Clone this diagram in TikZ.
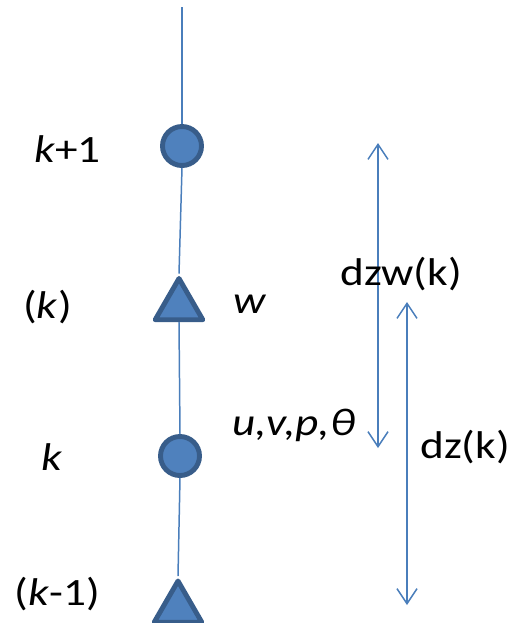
\documentclass[tikz,border=0pt]{standalone}
\usepackage{fontspec}
\setmainfont{Carlito}[FakeStretch=1.17]
\usetikzlibrary{positioning,arrows.meta,shapes.geometric}
\definecolor{lvlfill}{HTML}{4F81BD}
\definecolor{lvledge}{HTML}{385D8A}
\definecolor{lvlline}{HTML}{4A7EBB}
\tikzset{
  lvl/.style  = {draw=lvledge, fill=lvlfill, line width=2.8pt, inner sep=0pt},
  full/.style = {lvl, circle, minimum size=0.78cm},
  half/.style = {lvl, regular polygon, regular polygon sides=3,
                 minimum size=1.1cm, line join=round},
  stem/.style = {draw=lvlline, line width=0.85pt},
  dim/.style  = {{Straight Barb[length=3mm,width=4mm]}-{Straight Barb[length=3mm,width=4mm]},
                 draw=lvlline, line width=0.85pt},
  lbl/.style  = {font=\fontsize{22}{26}\selectfont, inner sep=0pt},
}
\begin{document}
\begin{tikzpicture}
  \useasboundingbox (0,0) rectangle (10.4,-12.46);

  % --- vertical grid column ---
  \coordinate (top) at (3.64,-0.14);
  \node[full] (kp1)  at (3.64,-2.92) {};
  \node[half] (hk)   at (3.58,-6.12) {};
  \node[full] (k)    at (3.60,-9.12) {};
  \node[half] (hkm1) at (3.56,-12.17) {};
  \draw[stem] (top) -- (kp1.north);
  \draw[stem] (kp1.south) -- (hk.north);
  \draw[stem] (hk.south) -- (k.north);
  \draw[stem] (k.south) -- (hkm1.north);

  % --- level labels ---
  \node[lbl, anchor=base] (lkp1)  at (1.35,-3.24) {\textit{k}+1};
  \node[lbl, anchor=base] (lhk)   at (0.95,-6.36) {(\textit{k})};
  \node[lbl, anchor=base] (lk)    at (1.04,-9.40) {\textit{k}};
  \node[lbl, anchor=base] (lhkm1) at (1.15,-12.10) {(\textit{k}-1)};

  % --- variables ---
  \node[lbl, anchor=base west] (wvar)  at (4.66,-6.26) {\textit{w}};
  \node[lbl, anchor=base west] (uvar)  at (4.64,-8.70) {\textit{u,v,p,θ}};

  % --- spacings ---
  \coordinate (dzwtop) at (7.56,-2.86);
  \coordinate (dzwbot) at (7.56,-8.96);
  \coordinate (dztop)  at (8.14,-6.04);
  \coordinate (dzbot)  at (8.14,-12.10);
  \draw[dim] (dzwtop) -- (dzwbot);
  \draw[dim] (dztop) -- (dzbot);
  \node[lbl, anchor=base west] (dzw) at (6.80,-5.70) {dzw(k)};
  \node[lbl, anchor=base west] (dz)  at (8.40,-9.16) {dz(k)};
\end{tikzpicture}
\end{document}
